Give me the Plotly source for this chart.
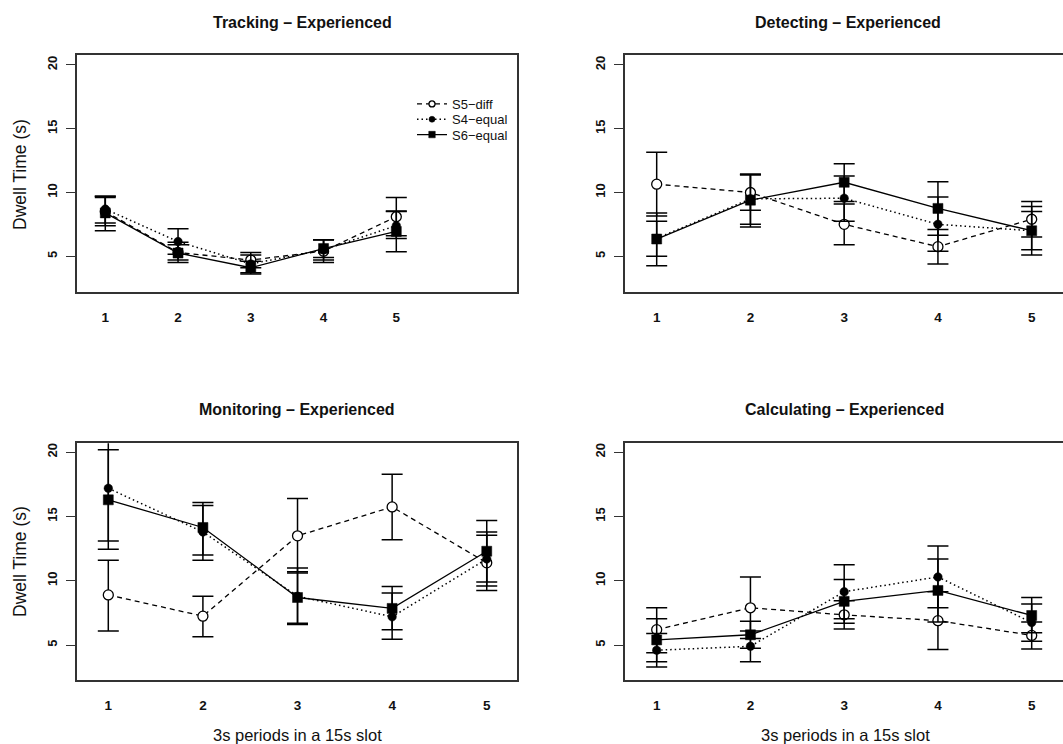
import plotly.graph_objects as go

# ---- data: mean dwell time and error-bar limits per 3s period ----
periods = [1, 2, 3, 4, 5]
series_names = ["S5\u2212diff", "S4\u2212equal", "S6\u2212equal"]

tracking_s5_mean = [8.5, 5.3, 4.7, 5.4, 8.1]
tracking_s5_lo = [7.0, 4.5, 4.1, 4.5, 6.6]
tracking_s5_hi = [9.7, 6.1, 5.3, 6.3, 9.6]
tracking_s4_mean = [8.7, 6.15, 4.4, 5.5, 7.4]
tracking_s4_lo = [7.6, 5.15, 3.7, 4.7, 6.4]
tracking_s4_hi = [9.7, 7.15, 5.1, 6.3, 8.5]
tracking_s6_mean = [8.4, 5.25, 4.1, 5.6, 6.95]
tracking_s6_lo = [7.4, 4.7, 3.6, 4.9, 5.35]
tracking_s6_hi = [9.6, 5.9, 4.6, 6.3, 8.55]

detecting_s5_mean = [10.65, 10.0, 7.5, 5.75, 7.9]
detecting_s5_lo = [8.15, 8.6, 5.9, 4.4, 6.5]
detecting_s5_hi = [13.15, 11.4, 9.1, 7.1, 9.3]
detecting_s4_mean = [6.4, 9.5, 9.55, 7.5, 7.0]
detecting_s4_lo = [5.0, 7.5, 7.75, 5.4, 5.1]
detecting_s4_hi = [7.75, 11.45, 11.3, 9.65, 8.9]
detecting_s6_mean = [6.35, 9.4, 10.8, 8.75, 7.0]
detecting_s6_lo = [4.25, 7.3, 9.3, 6.65, 5.5]
detecting_s6_hi = [8.4, 11.4, 12.25, 10.85, 8.5]

monitoring_s5_mean = [8.9, 7.25, 13.5, 15.75, 11.4]
monitoring_s5_lo = [6.1, 5.65, 10.6, 13.2, 9.25]
monitoring_s5_hi = [11.6, 8.8, 16.4, 18.3, 13.55]
monitoring_s4_mean = [17.2, 13.8, 8.8, 7.2, 11.7]
monitoring_s4_lo = [13.1, 11.6, 6.6, 5.45, 9.6]
monitoring_s4_hi = [21.3, 15.85, 11.0, 9.05, 13.8]
monitoring_s6_mean = [16.3, 14.15, 8.7, 7.85, 12.3]
monitoring_s6_lo = [12.45, 12.0, 6.7, 6.2, 9.9]
monitoring_s6_hi = [20.2, 16.1, 10.7, 9.55, 14.7]

calculating_s5_mean = [6.2, 7.9, 7.35, 6.9, 5.75]
calculating_s5_lo = [4.4, 5.5, 6.25, 4.65, 4.7]
calculating_s5_hi = [7.9, 10.3, 8.45, 9.15, 6.8]
calculating_s4_mean = [4.6, 4.9, 9.15, 10.3, 6.75]
calculating_s4_lo = [3.3, 3.7, 7.05, 7.9, 5.3]
calculating_s4_hi = [5.9, 6.1, 11.25, 12.7, 8.2]
calculating_s6_mean = [5.4, 5.8, 8.4, 9.25, 7.3]
calculating_s6_lo = [3.7, 4.75, 6.7, 6.8, 5.95]
calculating_s6_hi = [7.05, 6.85, 10.1, 11.7, 8.7]

panel_titles = ["Tracking \u2013 Experienced", "Detecting \u2013 Experienced",
                "Monitoring \u2013 Experienced", "Calculating \u2013 Experienced"]
y_title = "Dwell Time (s)"
x_title = "3s periods in a 15s slot"
y_ticks = [5, 10, 15, 20]

# ---- figure geometry (pixels) ----
W, H = 1063, 744
FONT = "Liberation Sans, Arial, Helvetica, sans-serif"
INK = "#111111"
FRAME = "#333333"


def fx(p):
    return p / W


def fy(p):
    return 1 - p / H


panels = [
    # (axis suffix, x domain px, y domain px (top, bottom), x range, y range, data, left column)
    ("", (76.7, 516.7), (55, 291.7), [0.607, 6.655], [2.22, 20.78],
     [(tracking_s5_mean, tracking_s5_lo, tracking_s5_hi),
      (tracking_s4_mean, tracking_s4_lo, tracking_s4_hi),
      (tracking_s6_mean, tracking_s6_lo, tracking_s6_hi)], True),
    ("2", (625, W), (55, 291.7), [0.662, 5.334], [2.22, 20.78],
     [(detecting_s5_mean, detecting_s5_lo, detecting_s5_hi),
      (detecting_s4_mean, detecting_s4_lo, detecting_s4_hi),
      (detecting_s6_mean, detecting_s6_lo, detecting_s6_hi)], False),
    ("3", (76.7, 517.3), (443.3, 680), [0.666, 5.323], [2.28, 20.70],
     [(monitoring_s5_mean, monitoring_s5_lo, monitoring_s5_hi),
      (monitoring_s4_mean, monitoring_s4_lo, monitoring_s4_hi),
      (monitoring_s6_mean, monitoring_s6_lo, monitoring_s6_hi)], True),
    ("4", (625, W), (443.3, 680), [0.662, 5.334], [2.28, 20.70],
     [(calculating_s5_mean, calculating_s5_lo, calculating_s5_hi),
      (calculating_s4_mean, calculating_s4_lo, calculating_s4_hi),
      (calculating_s6_mean, calculating_s6_lo, calculating_s6_hi)], False),
]

styles = [
    dict(marker=dict(symbol="circle", size=10, color="white", line=dict(color="black", width=1.3)),
         line=dict(color="black", width=1.3, dash="5px,4px")),
    dict(marker=dict(symbol="circle", size=8.5, color="black", line=dict(color="black", width=0.5)),
         line=dict(color="black", width=1.5, dash="1.5px,3px")),
    dict(marker=dict(symbol="square", size=10, color="black", line=dict(color="black", width=0.5)),
         line=dict(color="black", width=1.3)),
]

fig = go.Figure()
layout = dict(
    width=W, height=H, margin=dict(l=0, r=0, t=0, b=0),
    paper_bgcolor="white", plot_bgcolor="white",
    font=dict(family=FONT, color=INK),
    showlegend=True,
)

for suffix, xd, yd, xr, yr, data, left in panels:
    xa = "xaxis" + suffix
    ya = "yaxis" + suffix
    for (mean, lo, hi), st in zip(data, styles):
        fig.add_trace(go.Scatter(
            x=periods, y=mean, mode="lines+markers",
            xaxis="x" + suffix, yaxis="y" + suffix,
            marker=st["marker"], line=st["line"], showlegend=False,
            error_y=dict(type="data", symmetric=False,
                         array=[h - m for h, m in zip(hi, mean)],
                         arrayminus=[m - l for m, l in zip(mean, lo)],
                         color="black", thickness=1.5, width=10.5),
        ))
    layout[xa] = dict(
        domain=[fx(xd[0]), fx(xd[1])], range=xr, anchor="y" + suffix,
        tickvals=periods, ticktext=[str(p) for p in periods], ticks="",
        showgrid=False, zeroline=False, showline=True, mirror=True,
        linecolor=FRAME, linewidth=1.5,
        tickfont=dict(size=13.5, weight="bold", color=INK), ticklabelstandoff=12,
    )
    layout[ya] = dict(
        domain=[fy(yd[1]), fy(yd[0])], range=yr, anchor="x" + suffix,
        tickvals=y_ticks, ticks="outside", ticklen=9, tickwidth=1.3, tickcolor=FRAME,
        tickangle=-90, showgrid=False, zeroline=False, showline=True,
        mirror=left, linecolor=FRAME, linewidth=1.5,
        tickfont=dict(size=13, weight="bold", color=INK), ticklabelstandoff=4,
    )

# legend of the first panel: one row per series, each in its own legend box
legend_rows = [104, 119.3, 134.6]
for i, (name, st, row) in enumerate(zip(series_names, styles, legend_rows)):
    key = "legend" if i == 0 else "legend%d" % (i + 1)
    m = dict(st["marker"])
    m["size"] = 6 if m["symbol"] != "square" else 6.5
    fig.add_trace(go.Scatter(
        x=[None], y=[None], mode="lines+markers", name=name,
        marker=m, line=st["line"], xaxis="x", yaxis="y", showlegend=True,
        legend=key.replace("legend", "legend"),
    ))
    layout[key] = dict(
        x=fx(412), y=fy(row), xanchor="left", yanchor="middle",
        bgcolor="rgba(0,0,0,0)", borderwidth=0,
        font=dict(size=13, color=INK, family=FONT), itemwidth=30,
    )

annotations = []
title_pos = [(302, 22.7), (848, 22.7), (297, 409.7), (844, 409.7)]
for t, (px, py) in zip(panel_titles, title_pos):
    annotations.append(dict(text=t, x=fx(px), y=fy(py), xref="paper", yref="paper",
                            xanchor="center", yanchor="middle", showarrow=False,
                            font=dict(size=16, weight="bold", color=INK)))
for py in (175, 562):
    annotations.append(dict(text=y_title, x=fx(20), y=fy(py), xref="paper", yref="paper",
                            xanchor="center", yanchor="middle", showarrow=False, textangle=-90,
                            font=dict(size=17.5, color=INK)))
for px in (297, 845):
    annotations.append(dict(text=x_title, x=fx(px), y=fy(735), xref="paper", yref="paper",
                            xanchor="center", yanchor="middle", showarrow=False,
                            font=dict(size=16.5, color=INK)))
layout["annotations"] = annotations

fig.update_layout(**layout)
fig.write_html("out.html")
